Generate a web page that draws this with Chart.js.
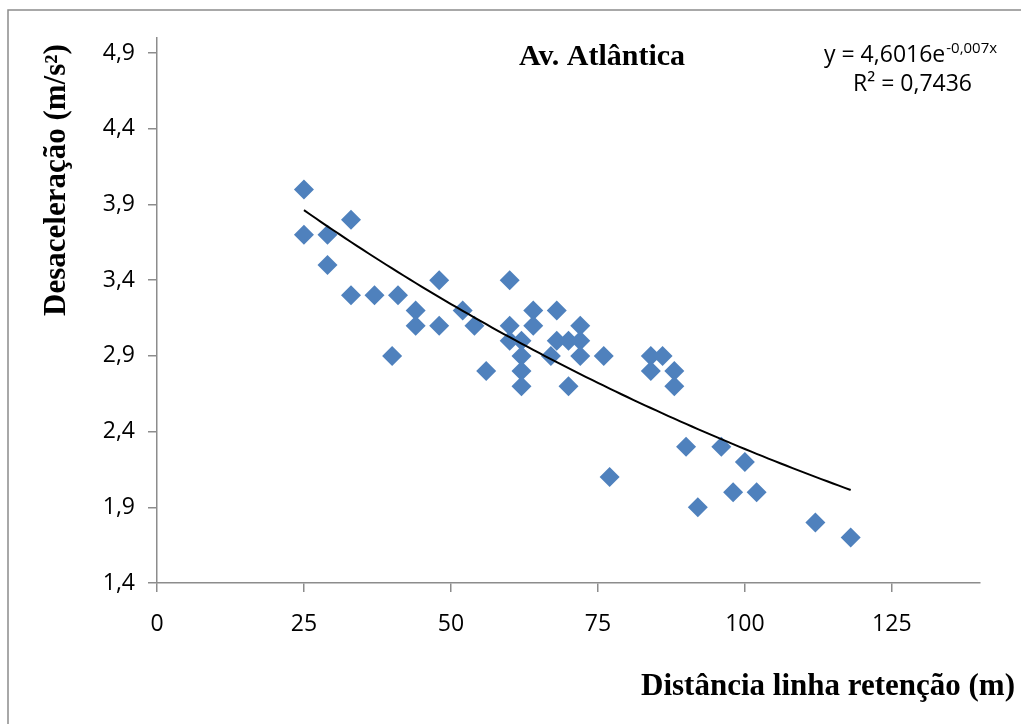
<!DOCTYPE html>
<html>
<head>
<meta charset="utf-8">
<script src="https://cdn.jsdelivr.net/npm/chart.js@4.4.0/dist/chart.umd.min.js"></script>
<style>
  html, body { margin: 0; padding: 0; background: #fff; }
  #wrap { width: 1021px; height: 724px; }
</style>
</head>
<body>
<div id="wrap"><canvas id="chart" width="1021" height="724"></canvas></div>
<script>
// ---------------- DATA ----------------
const distancia = [25, 25, 29, 29, 33, 33, 37, 41, 40, 44, 44, 48, 48, 52, 54, 56,
  60, 60, 60, 62, 62, 62, 62, 64, 64, 68, 68, 67, 70, 70, 72, 72, 72, 76, 77,
  84, 86, 84, 88, 88, 90, 92, 96, 98, 100, 102, 112, 118];
const desaceleracao = [4.0, 3.7, 3.7, 3.5, 3.8, 3.3, 3.3, 3.3, 2.9, 3.2, 3.1, 3.4, 3.1, 3.2, 3.1, 2.8,
  3.4, 3.1, 3.0, 3.0, 2.9, 2.8, 2.7, 3.2, 3.1, 3.2, 3.0, 2.9, 3.0, 2.7, 3.1, 3.0, 2.9, 2.9, 2.1,
  2.9, 2.9, 2.8, 2.8, 2.7, 2.3, 1.9, 2.3, 2.0, 2.2, 2.0, 1.8, 1.7];

const xTicks = [0, 25, 50, 75, 100, 125];
const yTicks = [1.4, 1.9, 2.4, 2.9, 3.4, 3.9, 4.4, 4.9];

// linha de tendência exponencial (equação do gráfico)
const trendA = 4.6016;
const trendB = -0.007;
const trendStart = 25;
const trendEnd = 118;

const titleText = 'Av. Atlântica';
const xTitle = 'Distância linha retenção (m)';
const yTitle = 'Desaceleração (m/s²)';

// ---------------- BUILD ----------------
const points = distancia.map((x, i) => ({ x, y: desaceleracao[i] }));
const trend = [];
for (let x = trendStart; x <= trendEnd; x++) {
  trend.push({ x, y: trendA * Math.exp(trendB * x) });
}

const fmt = v => Number(v).toFixed(String(v).includes('.') ? 1 : 0).replace('.', ',');

const textPlugin = {
  id: 'texts',
  beforeDraw(chart) {
    const c = chart.ctx;
    c.save();
    c.fillStyle = '#fff';
    c.fillRect(0, 0, chart.width, chart.height);
    c.strokeStyle = '#8c8c8c';
    c.lineWidth = 1.5;
    c.strokeRect(8, 10, 1100, 800);
    c.restore();
  },
  afterDraw(chart) {
    const c = chart.ctx;
    c.save();
    c.fillStyle = '#000';

    // título
    c.font = 'bold 30px "Liberation Serif", "Times New Roman", serif';
    c.textAlign = 'center';
    c.textBaseline = 'alphabetic';
    c.fillText(titleText, 602, 65);

    // título eixo x
    c.font = 'bold 31px "Liberation Serif", "Times New Roman", serif';
    c.fillText(xTitle, 828, 695);

    // título eixo y
    c.save();
    c.translate(65, 180);
    c.rotate(-Math.PI / 2);
    c.fillText(yTitle, 0, 0);
    c.restore();

    // equação
    c.textAlign = 'left';
    c.font = '23px "Open Sans", sans-serif';
    const main = 'y = 4,6016e';
    c.fillText(main, 824, 62);
    const w = c.measureText(main).width;
    c.font = '15px "Open Sans", sans-serif';
    c.fillText('-0,007x', 824 + w + 1, 53);
    c.font = '23px "Open Sans", sans-serif';
    c.fillText('R² = 0,7436', 853, 91);
    c.restore();
  }
};

const axisColor = '#8c8c8c';
const tickFont = { family: '"Open Sans", sans-serif', size: 23 };

new Chart(document.getElementById('chart'), {
  type: 'scatter',
  data: {
    datasets: [
      {
        type: 'line',
        label: 'Tendência',
        data: trend,
        borderColor: '#000',
        borderWidth: 2,
        pointRadius: 0,
        fill: false,
        tension: 0,
        order: 0
      },
      {
        label: 'Desaceleração',
        data: points,
        backgroundColor: '#4F81BD',
        borderColor: '#4F81BD',
        borderWidth: 0,
        pointStyle: 'rectRot',
        pointRadius: 10,
        pointHoverRadius: 10,
        order: 1
      }
    ]
  },
  options: {
    responsive: false,
    animation: false,
    events: [],
    layout: { padding: { left: 0, right: 41, top: 38, bottom: 0 } },
    plugins: {
      legend: { display: false },
      title: { display: false },
      tooltip: { enabled: false }
    },
    scales: {
      x: {
        type: 'linear',
        min: 0,
        max: 140,
        afterBuildTicks: s => { s.ticks = xTicks.map(v => ({ value: v })); },
        afterFit: s => { s.height = 724 - 583; },
        grid: { drawOnChartArea: false, drawTicks: true, tickLength: 9, color: axisColor, lineWidth: 1.5 },
        border: { color: axisColor, width: 1.5 },
        ticks: { color: '#000', font: tickFont, padding: 19, maxRotation: 0, callback: v => fmt(v) }
      },
      y: {
        type: 'linear',
        min: 1.4,
        max: 5.0,
        afterBuildTicks: s => { s.ticks = yTicks.map(v => ({ value: v })); },
        afterFit: s => { s.width = 157; },
        grid: { drawOnChartArea: false, drawTicks: true, tickLength: 9, color: axisColor, lineWidth: 1.5 },
        border: { color: axisColor, width: 1.5 },
        ticks: { color: '#000', font: tickFont, padding: 13, callback: v => fmt(v) }
      }
    }
  },
  plugins: [textPlugin]
});
</script>
</body>
</html>
